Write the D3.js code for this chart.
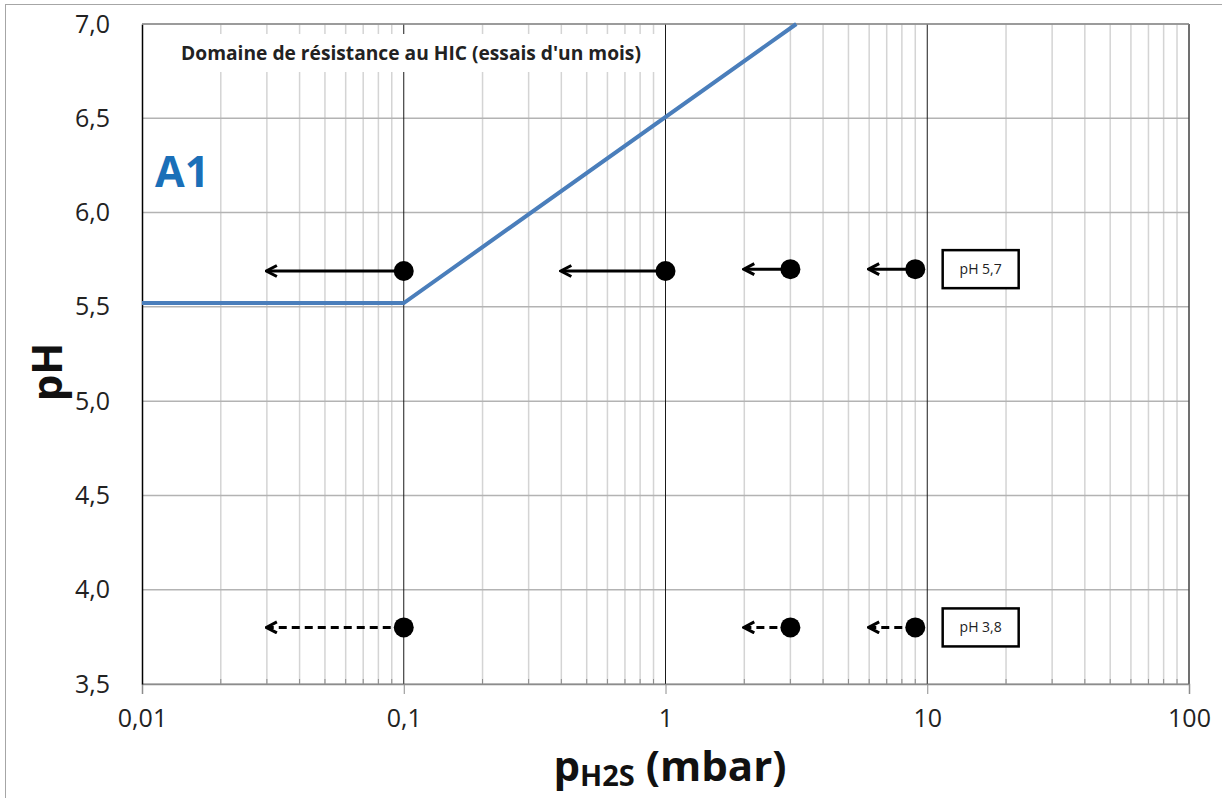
<!DOCTYPE html>
<html><head><meta charset="utf-8">
<script src="https://cdn.jsdelivr.net/npm/d3@7"></script>
<style>body{margin:0;background:#fff}svg{display:block}</style>
</head><body>
<svg id="c" width="1222" height="798"></svg>
<script>
// ---- data ----
const xTickValues = [0.01, 0.1, 1, 10, 100];
const xTickLabels = ["0,01", "0,1", "1", "10", "100"];
const yTickValues = [3.5, 4.0, 4.5, 5.0, 5.5, 6.0, 6.5, 7.0];
const yTickLabels = ["3,5", "4,0", "4,5", "5,0", "5,5", "6,0", "6,5", "7,0"];
const limitX = [0.01, 0.1, 3.16];
const limitY = [5.52, 5.52, 7.0];
const pointsPH57X = [0.1, 1, 3, 9];
const pointsPH57Y = [5.69, 5.69, 5.70, 5.70];
const arrowsPH57To = [0.03, 0.4, 2, 6];
const pointsPH38X = [0.1, 3, 9];
const pointsPH38Y = [3.8, 3.8, 3.8];
const arrowsPH38To = [0.03, 2, 6];
const boxLabels = ["pH 5,7", "pH 3,8"];
const boxLabelY = [5.7, 3.8];
const boxLabelX = [16, 16];

const svg = d3.select("#c");
const L = 142, R = 1189, T = 24, B = 684;
const x = d3.scaleLog().domain([0.01, 100]).range([L, R]);
const y = d3.scaleLinear().domain([3.5, 7.0]).range([B, T]);
const FONT = "Open Sans, sans-serif";

// outer border
svg.append("rect").attr("x", 5.5).attr("y", 4.5).attr("width", 1240).attr("height", 820)
  .attr("fill", "none").attr("stroke", "#a6a6a6").attr("stroke-width", 1);

// minor vertical gridlines
const minors = [];
[0.01, 0.1, 1, 10].forEach(d => { for (let k = 2; k <= 9; k++) minors.push(d * k); });
svg.append("g").selectAll("line").data(minors).join("line")
  .attr("x1", d => x(d)).attr("x2", d => x(d)).attr("y1", T).attr("y2", B)
  .attr("stroke", "#d4d4d4").attr("stroke-width", 1.5);
// horizontal gridlines
svg.append("g").selectAll("line").data(yTickValues).join("line")
  .attr("x1", L).attr("x2", R).attr("y1", d => y(d)).attr("y2", d => y(d))
  .attr("stroke", "#b3b3b3").attr("stroke-width", 1.5);
// major vertical lines
svg.append("g").selectAll("line").data([0.1, 1, 10]).join("line")
  .attr("x1", d => x(d)).attr("x2", d => x(d)).attr("y1", T).attr("y2", B)
  .attr("stroke", "#1a1a1a").attr("stroke-width", 1);
// right border
svg.append("line").attr("x1", R).attr("x2", R).attr("y1", T).attr("y2", B)
  .attr("stroke", "#404040").attr("stroke-width", 1.5);

// x axis (bottom): major ticks outward, minor ticks inward
const xAxis = d3.axisBottom(x).tickValues(xTickValues)
  .tickFormat((d, i) => xTickLabels[i]).tickSize(10).tickPadding(15);
const gx = svg.append("g").attr("transform", `translate(0,${B})`).call(xAxis);
gx.select(".domain").attr("stroke", "#8c8c8c").attr("stroke-width", 1.5);
gx.selectAll(".tick line").attr("stroke", "#8c8c8c");
gx.selectAll(".tick text").attr("font-family", FONT).attr("font-size", 25).attr("fill", "#222");
svg.append("g").selectAll("line").data(minors).join("line")
  .attr("x1", d => x(d)).attr("x2", d => x(d)).attr("y1", B - 5).attr("y2", B)
  .attr("stroke", "#8c8c8c");

// y axis
const yAxis = d3.axisLeft(y).tickValues(yTickValues)
  .tickFormat((d, i) => yTickLabels[i]).tickSize(0).tickPadding(32);
const gy = svg.append("g").attr("transform", `translate(${L},0)`).call(yAxis);
gy.select(".domain").attr("stroke", "#000").attr("stroke-width", 1.5);
gy.selectAll(".tick text").attr("font-family", FONT).attr("font-size", 25).attr("fill", "#222");

// top border
svg.append("line").attr("x1", L).attr("x2", R).attr("y1", T).attr("y2", T)
  .attr("stroke", "#8c8c8c").attr("stroke-width", 1.5);

// title box
svg.append("rect").attr("x", 166).attr("y", 34).attr("width", 490).attr("height", 38).attr("fill", "#fff");
svg.append("text").attr("x", 411).attr("y", 60).attr("text-anchor", "middle")
  .attr("font-family", FONT).attr("font-weight", "bold").attr("font-size", 19.2)
  .attr("fill", "#222").text("Domaine de résistance au HIC (essais d'un mois)");

// A1 label
svg.append("text").attr("x", 155).attr("y", 187)
  .attr("font-family", FONT).attr("font-weight", "bold").attr("font-size", 43)
  .attr("fill", "#1a6fb8").text("A1");

// limit line
const lineData = limitX.map((d, i) => [d, limitY[i]]);
svg.append("path").datum(lineData)
  .attr("d", d3.line().x(d => x(d[0])).y(d => y(d[1])))
  .attr("fill", "none").attr("stroke", "#4a7ebb").attr("stroke-width", 4);

// arrow marker (line drawn from dot toward the tip)
const defs = svg.append("defs");
defs.append("marker").attr("id", "ah").attr("viewBox", "0 0 14 14").attr("refX", 12).attr("refY", 7)
  .attr("markerWidth", 14).attr("markerHeight", 14).attr("markerUnits", "userSpaceOnUse").attr("orient", "auto")
  .append("path").attr("d", "M2,1.5 L12.5,7 L2,12.5").attr("fill", "none").attr("stroke", "#000").attr("stroke-width", 3);

function drawRow(xs, ys, tos, dashed) {
  const g = svg.append("g");
  g.selectAll("line").data(xs).join("line")
    .attr("x1", d => x(d)).attr("y1", (d, i) => y(ys[i]))
    .attr("x2", (d, i) => x(tos[i])).attr("y2", (d, i) => y(ys[i]))
    .attr("stroke", "#000").attr("stroke-width", 3)
    .attr("stroke-dasharray", dashed ? "8,5" : null)
    .attr("marker-end", "url(#ah)");
  g.selectAll("circle").data(xs).join("circle")
    .attr("cx", d => x(d)).attr("cy", (d, i) => y(ys[i])).attr("r", 10).attr("fill", "#000");
}
drawRow(pointsPH57X, pointsPH57Y, arrowsPH57To, false);
drawRow(pointsPH38X, pointsPH38Y, arrowsPH38To, true);

// label boxes
boxLabels.forEach((t, i) => {
  const cx = x(boxLabelX[i]), cy = y(boxLabelY[i]);
  svg.append("rect").attr("x", cx - 38).attr("y", cy - 19).attr("width", 76).attr("height", 38)
    .attr("fill", "#fff").attr("stroke", "#000").attr("stroke-width", 2.5);
  svg.append("text").attr("x", cx).attr("y", cy + 5).attr("text-anchor", "middle")
    .attr("font-family", FONT).attr("font-size", 14).attr("fill", "#222").text(t);
});

// axis titles
const xt = svg.append("text").attr("x", 670).attr("y", 781).attr("text-anchor", "middle")
  .attr("font-family", FONT).attr("font-weight", "bold").attr("font-size", 42).attr("fill", "#111");
xt.append("tspan").text("p");
xt.append("tspan").attr("font-size", 29).attr("dy", 5).text("H2S");
xt.append("tspan").attr("dy", -5).text(" (mbar)");

svg.append("text").attr("transform", "translate(62,372) rotate(-90)").attr("text-anchor", "middle")
  .attr("font-family", FONT).attr("font-weight", "bold").attr("font-size", 42).attr("fill", "#111")
  .text("pH");
</script>
</body></html>
